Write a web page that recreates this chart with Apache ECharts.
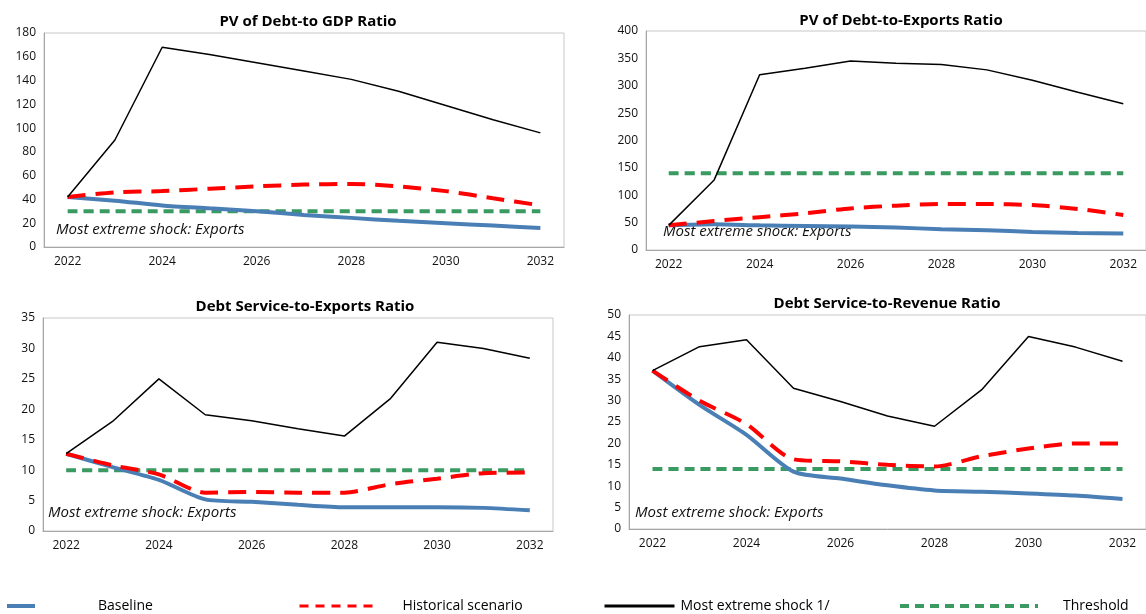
<!DOCTYPE html>
<html>
<head>
<meta charset="utf-8">
<script src="https://cdn.jsdelivr.net/npm/echarts@6/dist/echarts.min.js"></script>
<style>
  html, body { margin: 0; padding: 0; background: #fff; }
  #main { width: 1146px; height: 614px; }
</style>
</head>
<body>
<div id="main"></div>
<script>
// years
const years = ['2022', '2023', '2024', '2025', '2026', '2027', '2028', '2029', '2030', '2031', '2032'];

// PV of Debt-to GDP
const gdpBaseline = [42, 39, 35, 32.5, 30, 27, 24.5, 22, 20, 18, 16];
const gdpHistorical = [42, 46, 47, 49, 51, 52.5, 53, 51, 47, 41, 35];
const gdpShock = [42, 90, 168, 162, 155, 148, 141, 131, 119, 107, 96];
const gdpThreshold = [30, 30, 30, 30, 30, 30, 30, 30, 30, 30, 30];

// PV of Debt-to-Exports
const pvxBaseline = [45, 47, 45, 44, 43, 41, 38, 36, 33, 31, 30];
const pvxHistorical = [45, 53, 60, 67, 76, 81, 84, 84, 82, 75, 64];
const pvxShock = [45, 128, 320, 332, 345, 341, 339, 329, 310, 288, 267];
const pvxThreshold = [140, 140, 140, 140, 140, 140, 140, 140, 140, 140, 140];

// Debt Service-to-Exports
const dsxBaseline = [12.7, 10.5, 8.4, 5.2, 4.8, 4.3, 3.9, 3.9, 3.9, 3.8, 3.4];
const dsxHistorical = [12.7, 10.8, 9.3, 6.3, 6.4, 6.3, 6.3, 7.7, 8.6, 9.5, 9.6];
const dsxShock = [12.7, 18, 25, 19.1, 18.1, 16.8, 15.6, 21.8, 31, 30, 28.4];
const dsxThreshold = [10, 10, 10, 10, 10, 10, 10, 10, 10, 10, 10];

// Debt Service-to-Revenue
const dsrBaseline = [37, 29, 22, 13.4, 11.8, 10.2, 9, 8.7, 8.3, 7.8, 7];
const dsrHistorical = [37, 30, 24.5, 16.3, 15.8, 15, 14.6, 17, 18.8, 20, 20];
const dsrShock = [37, 42.6, 44.2, 32.9, 29.8, 26.4, 24, 32.5, 45, 42.5, 39.2];
const dsrThreshold = [14, 14, 14, 14, 14, 14, 14, 14, 14, 14, 14];

const titles = ['PV of Debt-to GDP Ratio', 'PV of Debt-to-Exports Ratio', 'Debt Service-to-Exports Ratio', 'Debt Service-to-Revenue Ratio'];
const yMax = [180, 400, 35, 50];
const yStep = [20, 50, 5, 5];
const panels = [
  [gdpBaseline, gdpHistorical, gdpShock, gdpThreshold],
  [pvxBaseline, pvxHistorical, pvxShock, pvxThreshold],
  [dsxBaseline, dsxHistorical, dsxShock, dsxThreshold],
  [dsrBaseline, dsrHistorical, dsrShock, dsrThreshold]
];
const names = ['Baseline', 'Historical scenario', 'Most extreme shock 1/', 'Threshold'];

const font = 'Open Sans, Noto Sans, sans-serif';
const lineStyles = [
  { color: '#4a7fb5', width: 4, type: 'solid' },
  { color: '#ff0000', width: 4, type: [18, 10] },
  { color: '#000000', width: 1.5, type: 'solid' },
  { color: '#3a9a62', width: 4, type: [10, 6] }
];
// legend swatch strokes
const legendLines = [
  { width: 4, type: 'solid' },
  { width: 3, type: [9, 7] },
  { width: 3, type: 'solid' },
  { width: 4, type: [9, 6] }
];

// grid boxes (left, top, width, height) in px
const grids = [
  { left: 44, top: 33, width: 520, height: 214 },
  { left: 646, top: 31, width: 502, height: 219 },
  { left: 43, top: 318, width: 510, height: 213 },
  { left: 629, top: 315, width: 521, height: 214 }
];
const titlePos = [[303, 9], [896, 8], [300, 294], [882, 291]];
const notePos = [[56, 222], [663, 224], [48, 505], [635, 505]];

const option = {
  animation: false,
  grid: [],
  xAxis: [],
  yAxis: [],
  series: [],
  title: [],
  legend: [],
  graphic: []
};

grids.forEach((g, i) => {
  option.grid.push({ left: g.left, top: g.top, width: g.width, height: g.height, show: true, borderColor: '#c8c8c8', borderWidth: 1 });
  option.xAxis.push({
    type: 'category', gridIndex: i, data: years, boundaryGap: true,
    axisLine: { lineStyle: { color: '#a6a6a6' } },
    axisTick: { interval: 1, length: 5, lineStyle: { color: '#a6a6a6' } },
    axisLabel: { interval: 1, color: '#111', fontSize: 12, fontFamily: font, margin: 9 }
  });
  option.yAxis.push({
    type: 'value', gridIndex: i, min: 0, max: yMax[i], interval: yStep[i],
    axisLine: { show: true, lineStyle: { color: '#a6a6a6' } },
    axisTick: { show: false },
    splitLine: { show: false },
    axisLabel: { color: '#111', fontSize: 12, fontFamily: font, margin: 8 }
  });
  option.title.push({
    text: titles[i], left: titlePos[i][0], top: titlePos[i][1], textAlign: 'center',
    textStyle: { fontSize: 15, fontWeight: 'bold', fontFamily: font, color: '#000' }
  });
  // draw threshold first, then baseline, historical, shock on top
  [3, 0, 1, 2].forEach(k => {
    option.series.push({
      name: names[k], type: 'line', xAxisIndex: i, yAxisIndex: i,
      data: panels[i][k], symbol: 'none', smooth: k !== 2 ? 0.25 : false,
      lineStyle: lineStyles[k], itemStyle: { color: lineStyles[k].color },
      z: k === 2 ? 5 : 3
    });
  });
  option.graphic.push({
    type: 'text', left: notePos[i][0], top: notePos[i][1],
    style: { text: 'Most extreme shock: Exports', fontSize: 15, fontStyle: 'italic', fontFamily: font, fill: '#111' }
  });
});

// bottom legend, one component per item to mimic spacing
const legendPos = [[0, 28, 58], [293, 78, 20], [598, 70, 1], [893, 138, 20]];
names.forEach((n, k) => {
  option.legend.push({
    data: [n], left: legendPos[k][0], top: 594, itemWidth: legendPos[k][1], itemHeight: 14,
    itemStyle: { opacity: 0 },
    lineStyle: legendLines[k],
    textStyle: { fontSize: 14, fontFamily: font, color: '#000', padding: [0, 0, 0, legendPos[k][2]] },
    selectedMode: false
  });
});

const chart = echarts.init(document.getElementById('main'));
chart.setOption(option);
</script>
</body>
</html>
